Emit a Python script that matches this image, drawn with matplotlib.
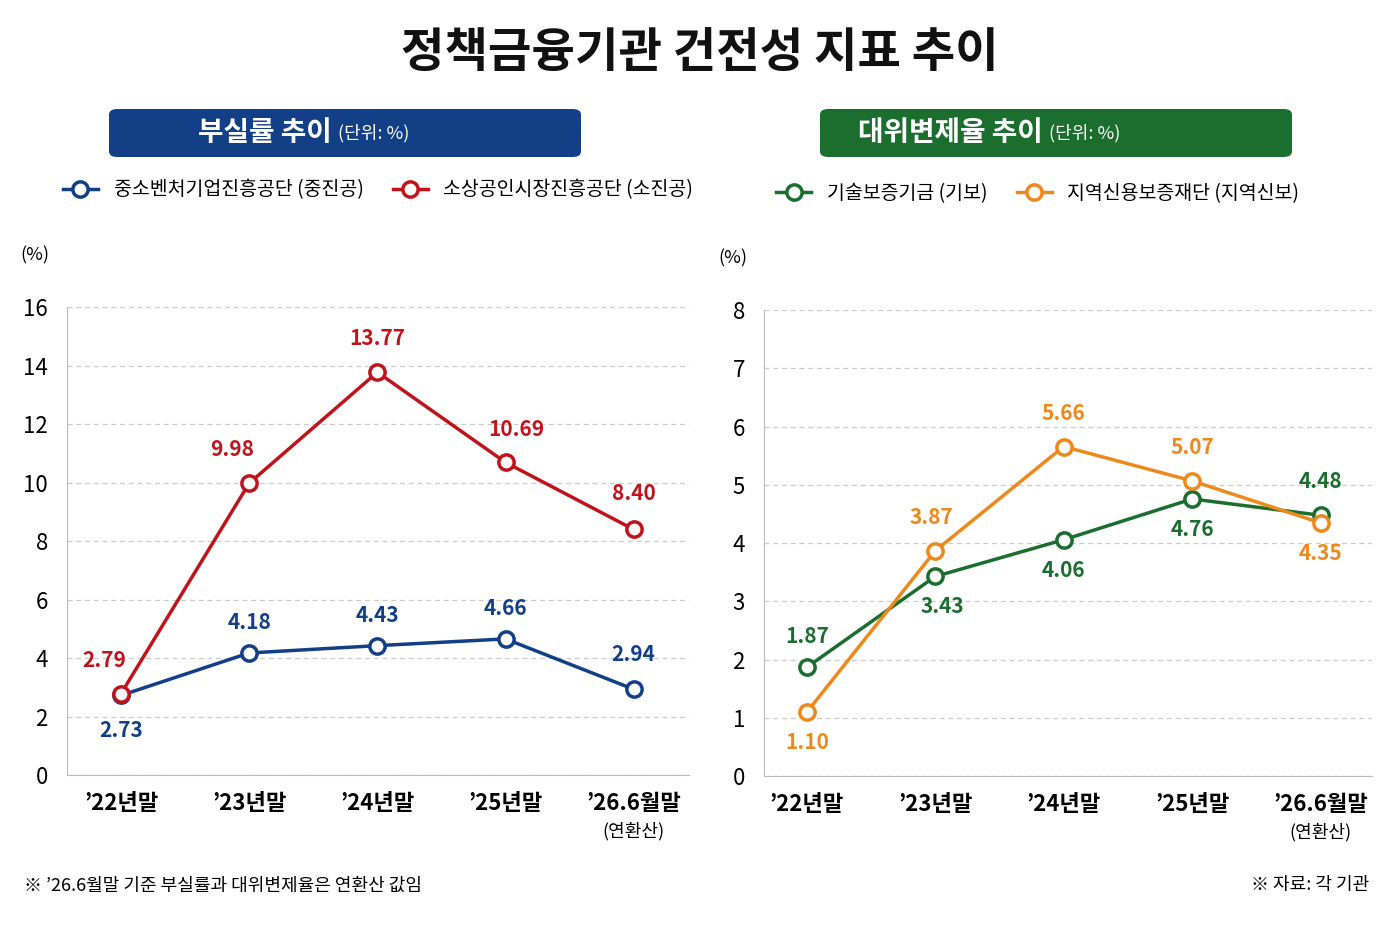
import matplotlib
matplotlib.use("Agg")
import matplotlib.pyplot as plt
from matplotlib.patches import FancyBboxPatch

plt.rcParams['font.family'] = ['Noto Sans CJK KR', 'DejaVu Sans']

periods = ["’22년말", "’23년말", "’24년말", "’25년말", "’26.6월말"]
jungjin = [2.73, 4.18, 4.43, 4.66, 2.94]
sojin = [2.79, 9.98, 13.77, 10.69, 8.40]
gibo = [1.87, 3.43, 4.06, 4.76, 4.48]
jiyeok = [1.10, 3.87, 5.66, 5.07, 4.35]

BLUE = "#123f85"
RED = "#c0141c"
GREEN = "#1c6e2f"
ORANGE = "#ee8a1c"

fig = plt.figure(figsize=(14, 9.33), dpi=100)
fig.text(0.5, 0.943, "정책금융기관 건전성 지표 추이", ha='center', va='center',
         fontsize=34, fontweight='bold', color='#111111')

def header(x0, x1, color, title):
    W, H = 1400, 933
    box = FancyBboxPatch((x0 / W, 1 - 157 / H), (x1 - x0) / W, 48 / H,
                         boxstyle="round,pad=0,rounding_size=0.006",
                         transform=fig.transFigure, facecolor=color, edgecolor='none')
    fig.patches.append(box)
    cx = (x0 + x1) / 2 / W
    fig.text(cx - 0.005, 1 - 133 / H, title + " ", ha='right', va='center',
             fontsize=20, fontweight='bold', color='white')
    fig.text(cx - 0.005, 1 - 133 / H, "(단위: %)", ha='left', va='center',
             fontsize=13, color='white')

header(109, 581, BLUE, "부실률 추이")
header(820, 1292, GREEN, "대위변제율 추이")

def panel(rect, ymax, ystep, s1, s2, c1, c2, n1, n2, off1, off2, xl, legx):
    ax = fig.add_axes(rect)
    x = list(range(len(periods)))
    for s, c, n, off in [(s1, c1, n1, off1), (s2, c2, n2, off2)]:
        ax.plot(x, s, color=c, lw=2.5, marker='o', ms=11, mfc='white',
                mec=c, mew=2.5, label=n, zorder=3)
        for xi, v, o in zip(x, s, off):
            ax.annotate(f"{v:.2f}", (xi, v), xytext=o, textcoords='offset points',
                        ha='center', va='center', fontsize=15, fontweight='bold', color=c)
    ax.set_ylim(0, ymax)
    ax.set_yticks([i * ystep for i in range(int(ymax / ystep) + 1)])
    ax.set_xlim(*xl)
    ax.set_xticks(x)
    ax.set_xticklabels(periods, fontsize=16, fontweight='bold')
    ax.tick_params(axis='x', length=0, pad=12)
    ax.tick_params(axis='y', length=0, labelsize=16, pad=14)
    ax.grid(axis='y', ls=(0, (4, 3)), color='#cccccc', lw=0.9)
    for sp in ['top', 'right']:
        ax.spines[sp].set_visible(False)
    for sp in ['left', 'bottom']:
        ax.spines[sp].set_color('#bbbbbb')
    ax.text(-0.075, 1.1, "(%)", transform=ax.transAxes, fontsize=13, ha='left')
    ax.text(4, -0.12, "(연환산)", transform=ax.get_xaxis_transform(), ha='center',
            va='center', fontsize=13)
    leg = ax.legend(loc='center', bbox_to_anchor=(legx, 1.25), ncol=2, frameon=False,
                    fontsize=14, handlelength=1.8, columnspacing=1.5)
    return ax

panel([0.048, 0.169, 0.444, 0.502], 16, 2, jungjin, sojin, BLUE, RED,
      "중소벤처기업진흥공단 (중진공)", "소상공인시장진흥공단 (소진공)",
      [(0, -25), (0, 22), (0, 22), (0, 22), (0, 25)],
      [(-12, 24), (-12, 24), (0, 24), (8, 24), (0, 26)],
      (-0.42, 4.43), 0.5)
panel([0.546, 0.168, 0.434, 0.4995], 8, 1, gibo, jiyeok, GREEN, ORANGE,
      "기술보증기금 (기보)", "지역신용보증재단 (지역신보)",
      [(0, 22), (5, -22), (0, -22), (0, -22), (0, 24)],
      [(0, -22), (-3, 24), (0, 24), (0, 24), (0, -22)],
      (-0.33, 4.4), 0.45)

fig.text(0.017, 0.051, "※ ’26.6월말 기준 부실률과 대위변제율은 연환산 값임", fontsize=13,
         va='center')
fig.text(0.978, 0.051, "※ 자료: 각 기관", fontsize=13, va='center', ha='right')

fig.savefig("out.png", dpi=100, facecolor='white')
